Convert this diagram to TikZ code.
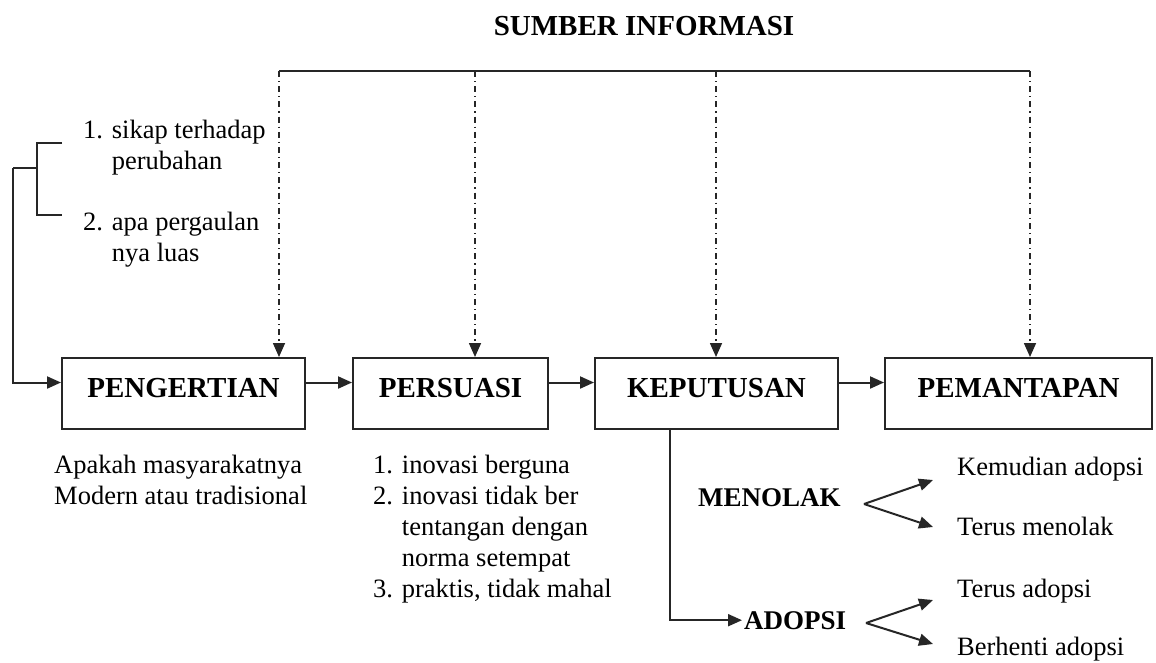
\documentclass[tikz,border=0pt]{standalone}
\usepackage{fontspec}
\setmainfont{Liberation Serif}
\usetikzlibrary{arrows.meta}
\begin{document}
\begin{tikzpicture}[x=1pt,y=-1pt,
  ln/.style={line width=2pt, draw=black!85},
  arr/.style={ln, -{Triangle[length=14pt,width=12pt]}},
  dd/.style={line width=1.6pt, dash pattern=on 6pt off 4pt on 1.2pt off 4pt},
  box/.style={draw=black!85, line width=2pt, inner xsep=0pt, inner ysep=0pt,
    text height=39pt, text depth=32pt, font=\fontsize{29}{34}\selectfont\bfseries},
  txt/.style={inner sep=0pt, anchor=base west, font=\fontsize{26.5}{31}\selectfont},
  lbl/.style={inner sep=2pt, anchor=base west, font=\fontsize{27}{31}\selectfont\bfseries}]
\useasboundingbox[fill=white] (0,0) rectangle (1156,662);

% title
\node[inner sep=0pt, anchor=base, font=\fontsize{29}{34}\selectfont\bfseries] (title) at (644,35) {SUMBER INFORMASI};

% boxes
\node[box, minimum width=243pt] (pen) at (183.5,393.5) {PENGERTIAN};
\node[box, minimum width=195pt] (per) at (450.5,393.5) {PERSUASI};
\node[box, minimum width=243pt] (kep) at (716.5,393.5) {KEPUTUSAN};
\node[box, minimum width=267pt] (pem) at (1018.5,393.5) {PEMANTAPAN};

% texts
\node[txt] (f) at (83,138) {\begin{tabular}[t]{@{}l@{ }l@{}}1. & sikap terhadap\\ & perubahan\\[30pt] 2. & apa pergaulan\\ & nya luas\end{tabular}};
\node[txt] (apk) at (54,473) {\begin{tabular}[t]{@{}l@{}}Apakah masyarakatnya\\ Modern atau tradisional\end{tabular}};
\node[txt] (lst) at (373,473) {\begin{tabular}[t]{@{}l@{ }l@{}}1. & inovasi berguna\\ 2. & inovasi tidak ber\\ & tentangan dengan\\ & norma setempat\\ 3. & praktis, tidak mahal\end{tabular}};

\node[lbl] (men) at (696,506) {MENOLAK};
\node[lbl] (ado) at (742,629) {ADOPSI};

\node[txt] (r1) at (957,475) {Kemudian adopsi};
\node[txt] (r2) at (957,535) {Terus menolak};
\node[txt] (r3) at (957,597) {Terus adopsi};
\node[txt] (r4) at (957,655) {Berhenti adopsi};

% information source lines
\coordinate (s1) at (279,71);
\coordinate (s2) at (475,71);
\coordinate (s3) at (716,71);
\coordinate (s4) at (1030,71);
\draw[ln] (s1) -- (s4);
\draw[arr, dd] (s1) -- (s1 |- pen.north);
\draw[arr, dd] (s2) -- (s2 |- per.north);
\draw[arr, dd] (s3) -- (s3 |- kep.north);
\draw[arr, dd] (s4) -- (s4 |- pem.north);

% bracket
\coordinate (b1) at (62,143);
\coordinate (b2) at (62,215);
\coordinate (bm) at (37,168);
\coordinate (b0) at (13,168);
\draw[ln] (b1) -- (37,143) -- (37,215) -- (b2);
\draw[ln] (bm) -- (b0);
\draw[arr] (b0) |- ([yshift=11pt]pen.west);

% main flow
\draw[arr] ([yshift=11pt]pen.east) -- ([yshift=11pt]per.west);
\draw[arr] ([yshift=11pt]per.east) -- ([yshift=11pt]kep.west);
\draw[arr] ([yshift=11pt]kep.east) -- ([yshift=11pt]pem.west);

% decision branch
\draw[arr] ([xshift=-46.5pt]kep.south) |- (ado.west);

% fans
\coordinate (mv) at (864,504);
\coordinate (mt1) at (933,480);
\coordinate (mt2) at (933,527);
\coordinate (av) at (866,623);
\coordinate (at1) at (933,600);
\coordinate (at2) at (933,644);
\draw[arr] (mv) -- (mt1);
\draw[arr] (mv) -- (mt2);
\draw[arr] (av) -- (at1);
\draw[arr] (av) -- (at2);
\end{tikzpicture}
\end{document}
